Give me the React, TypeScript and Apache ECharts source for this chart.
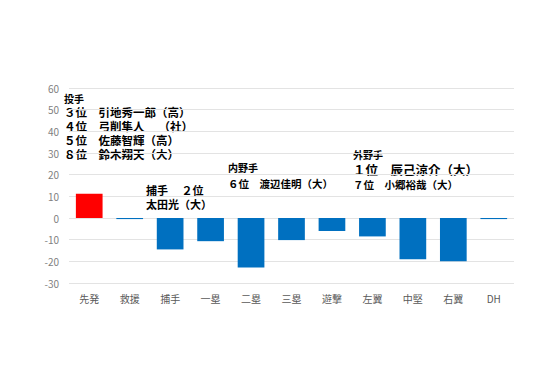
import React, { useEffect, useRef } from "react";
import * as echarts from "echarts";

const categories = ["先発", "救援", "捕手", "一塁", "二塁", "三塁", "遊撃", "左翼", "中堅", "右翼", "DH"];
const values = [11.2, -0.5, -14.5, -10.7, -22.9, -10.2, -6, -8.5, -19, -20, -0.5];
const highlightIndex = 0;
const yMin = -30;
const yMax = 60;
const yInterval = 10;

const pitcherLines = ["投手", "３位　引地秀一郎（高）", "４位　弓削隼人　 （社）", "５位　佐藤智輝（高）", "８位　鈴木翔天（大）"];
const catcherLines = ["捕手　 ２位", "太田光（大）"];
const infieldLines = ["内野手", "６位　渡辺佳明（大）"];
const outfieldLines = ["外野手", "１位　辰己涼介（大）", "７位　小郷裕哉（大）"];

const FONT = "'Noto Sans CJK JP', 'Noto Sans', sans-serif";

export default function App() {
  const ref = useRef<HTMLDivElement>(null);
  useEffect(() => {
    if (!ref.current) return;
    const chart = echarts.init(ref.current, undefined, { renderer: "svg" });
    const st = (size: number, lh: number) => ({
      fontFamily: FONT,
      fontWeight: "bold",
      fontSize: size,
      lineHeight: lh,
      color: "#000",
    });
    const block = (x: number, y: number, lines: string[], styles: string[], rich: any) => ({
      type: "text",
      x,
      y,
      style: {
        text: lines.map((l, i) => `{${styles[i]}|${l}}`).join("\n"),
        rich,
        verticalAlign: "top",
        align: "left",
      },
    });
    const graphics: any[] = [
      block(64, 91, pitcherLines, ["h", "b", "b", "b", "b"], { h: st(10, 14), b: st(11.5, 14) }),
      block(146, 183, catcherLines, ["b", "b"], { b: st(11, 14) }),
      block(228, 159, infieldLines, ["h", "b"], { h: st(10, 16), b: st(10.5, 16) }),
      block(353, 146.5, outfieldLines, ["h", "t", "b"], { h: st(10, 15), t: st(12.5, 15), b: st(10.5, 15) }),
    ];

    chart.setOption({
      animation: false,
      textStyle: { fontFamily: FONT },
      grid: { left: 69, right: 46, top: 88, bottom: 90, containLabel: false },
      xAxis: {
        type: "category",
        data: categories,
        position: "bottom",
        axisLine: { show: false },
        axisTick: { show: false },
        axisLabel: { color: "#595959", fontSize: 10, margin: 10 },
      },
      yAxis: {
        type: "value",
        min: yMin,
        max: yMax,
        interval: yInterval,
        axisLine: { show: false },
        axisTick: { show: false },
        axisLabel: { color: "#7f7f7f", fontSize: 10, margin: 10 },
        splitLine: { lineStyle: { color: "#e3e3e3", width: 1 } },
      },
      series: [
        {
          type: "bar",
          data: values.map((v, i) => ({
            value: v,
            itemStyle: { color: i === highlightIndex ? "#ff0000" : "#0070c0" },
          })),
          barWidth: "66%",
        },
      ],
      graphic: graphics,
    });
    return () => chart.dispose();
  }, []);
  return <div ref={ref} style={{ width: 560, height: 373, position: "absolute", left: 0, top: 0, background: "#fff" }} />;
}
